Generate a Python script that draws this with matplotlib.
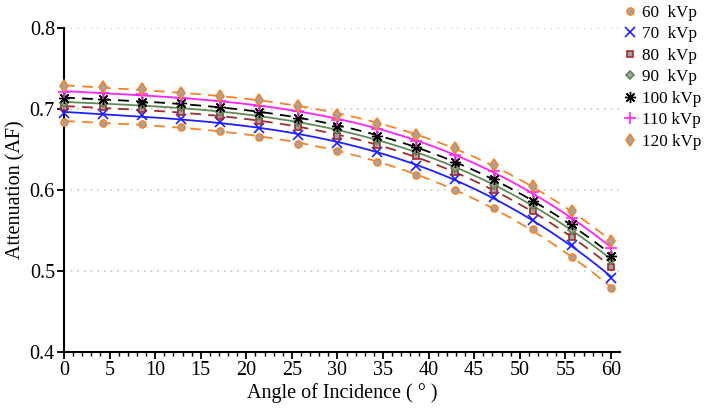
import matplotlib
matplotlib.use('Agg')
import matplotlib.pyplot as plt
import numpy as np

plt.rcParams['font.family'] = ['Liberation Serif', 'DejaVu Serif']

# angle of incidence (deg) and attenuation factor per tube voltage
angle = [0, 4.29, 8.57, 12.86, 17.14, 21.43, 25.71, 30, 34.29, 38.57, 42.86, 47.14, 51.43, 55.71, 60]
af_60 = [0.684, 0.683, 0.6815, 0.678, 0.673, 0.666, 0.657, 0.648, 0.634, 0.619, 0.600, 0.578, 0.552, 0.517, 0.479]
af_70 = [0.695, 0.694, 0.692, 0.688, 0.6835, 0.6765, 0.668, 0.658, 0.6465, 0.630, 0.613, 0.591, 0.563, 0.5325, 0.491]
af_80 = [0.7025, 0.702, 0.700, 0.696, 0.691, 0.685, 0.678, 0.667, 0.656, 0.6415, 0.622, 0.600, 0.5735, 0.542, 0.505]
af_90 = [0.708, 0.707, 0.705, 0.702, 0.696, 0.691, 0.6835, 0.6735, 0.662, 0.648, 0.6275, 0.6065, 0.581, 0.551, 0.514]
af_100 = [0.7136, 0.712, 0.709, 0.7075, 0.703, 0.696, 0.689, 0.679, 0.667, 0.653, 0.634, 0.614, 0.587, 0.558, 0.519]
af_110 = [0.721, 0.720, 0.718, 0.714, 0.710, 0.704, 0.697, 0.687, 0.675, 0.661, 0.643, 0.623, 0.597, 0.566, 0.528]
af_120 = [0.728, 0.727, 0.725, 0.720, 0.716, 0.711, 0.704, 0.693, 0.682, 0.668, 0.652, 0.631, 0.6045, 0.5735, 0.5366]
labels = ['60  kVp', '70  kVp', '80  kVp', '90  kVp', '100 kVp', '110 kVp', '120 kVp']

grey = '#a3a3a3'
orange = '#f5832a'
styles = [
    dict(color=orange, ls=(0, (6, 4)), marker='o', mfc=grey, mec=orange, ms=5, mew=1.2),
    dict(color='#1f1fff', ls='-', marker='x', mfc='none', mec='#1f1fff', ms=7, mew=1.2),
    dict(color='#a52a2a', ls=(0, (6, 4)), marker='s', mfc=grey, mec='#a52a2a', ms=5, mew=1.2),
    dict(color='#5f8a55', ls='-', marker='D', mfc=grey, mec='#5f8a55', ms=4.5, mew=1.2),
    dict(color='black', ls=(0, (6, 4)), marker=(8, 2, 0), mfc='black', mec='black', ms=8, mew=1.0),
    dict(color='#ff22ff', ls='-', marker='+', mfc='none', mec='#ff22ff', ms=8, mew=1.2),
    dict(color=orange, ls=(0, (6, 4)), marker='d', mfc=grey, mec=orange, ms=6.5, mew=1.2),
]

fig = plt.figure(figsize=(7.09, 4.12), dpi=100)
ax = fig.add_axes([0.0903, 0.1456, 0.7842, 0.7864])

x = np.array(angle)
xs = np.linspace(0, 60, 200)
handles = []
for ys, st in zip([af_60, af_70, af_80, af_90, af_100, af_110, af_120], styles):
    # fitted trend line through the measured points
    coef = np.polyfit(x, ys, 3)
    ax.plot(xs, np.polyval(coef, xs), color=st['color'], ls=st['ls'], lw=1.3, zorder=2)
    h, = ax.plot(x, ys, ls='none', marker=st['marker'], mfc=st['mfc'], mec=st['mec'],
                 ms=st['ms'], mew=st['mew'], zorder=3, clip_on=False)
    handles.append(h)

ax.set_xlim(0, 61)
ax.set_ylim(0.4, 0.8)
ax.set_xticks(np.arange(0, 61, 5))
ax.set_xticks(np.arange(0, 61, 1), minor=True)
ax.set_yticks([0.4, 0.5, 0.6, 0.7, 0.8])
ax.set_yticklabels(['0.4', '0.5', '0.6', '0.7', '0.8'])
for yv in [0.5, 0.6, 0.7, 0.8]:
    ax.axhline(yv, color='#c8c8c8', ls=(0, (1, 3)), lw=1.2, zorder=1)

ax.spines['top'].set_visible(False)
ax.spines['right'].set_visible(False)
ax.spines['left'].set_linewidth(1.5)
ax.spines['bottom'].set_linewidth(1.5)
ax.tick_params(axis='both', which='major', direction='out', length=5, width=1.3, labelsize=14.5, pad=1.5)
ax.tick_params(axis='x', which='minor', direction='out', length=3, width=1.0)

ax.set_xlabel('Angle of Incidence ( ° )', fontsize=14.5, labelpad=2)
ax.set_ylabel('Attenuation (AF)', fontsize=14.5, labelpad=3)

fig.legend(handles, labels, loc='upper left', bbox_to_anchor=(0.87, 1.005), frameon=False,
           fontsize=12.3, handlelength=0.8, handletextpad=0.25, labelspacing=0.32, borderaxespad=0)

fig.savefig('out.png', dpi=100)
